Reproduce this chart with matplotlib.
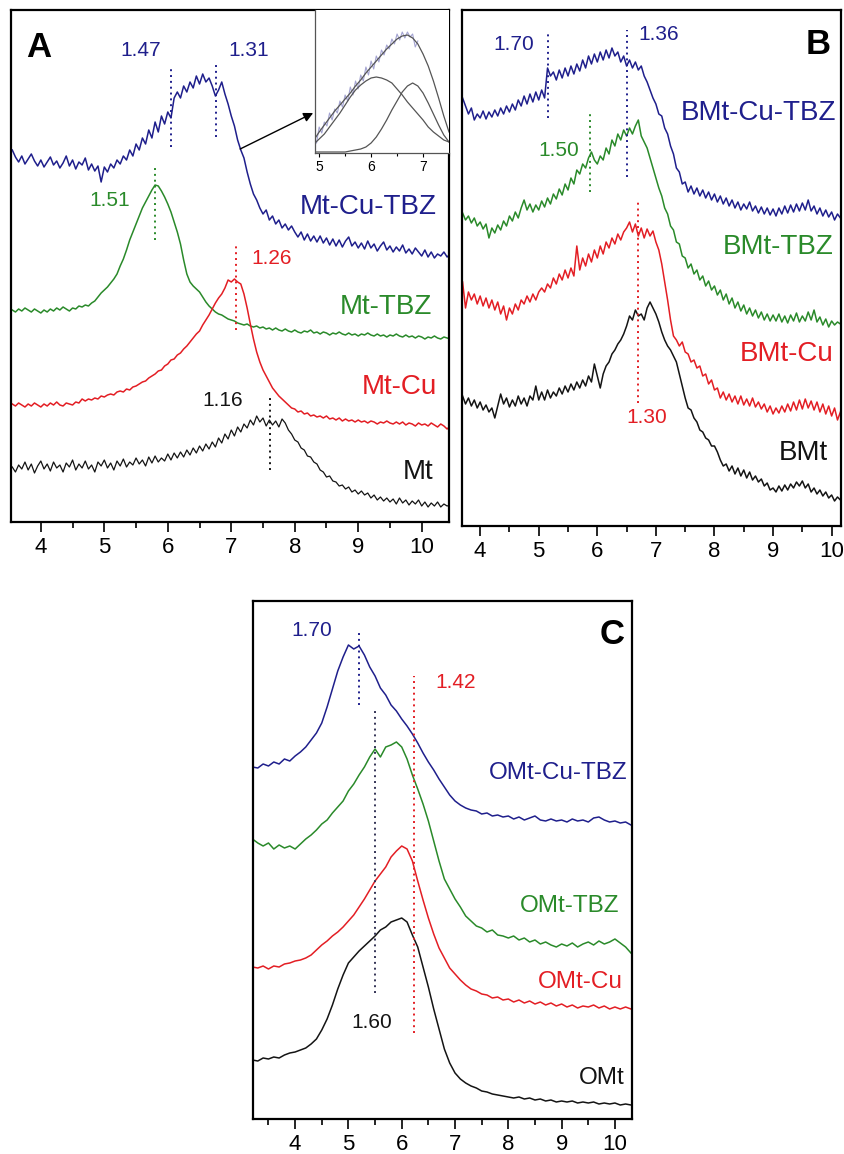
import numpy as np
import matplotlib
matplotlib.use('Agg')
import matplotlib.pyplot as plt
from matplotlib.ticker import MultipleLocator

plt.rcParams['font.family'] = ['Liberation Sans', 'DejaVu Sans']

# colours
navy = '#1f1f8c'
green = '#2a8a2a'
red = '#e31e24'
black = '#141414'

## ---- panel A : Mt series (intensity in arbitrary units, offset already included)
xa = np.linspace(3.55, 10.45, 139)
a_mt_cu_tbz = [372, 365, 360, 366, 358, 363, 368, 361, 356, 362,
               355, 360, 365, 357, 361, 354, 359, 366, 356, 362,
               353, 360, 357, 364, 352, 358, 351, 356, 340, 355,
               350, 358, 354, 362, 358, 366, 362, 372, 366, 378,
               372, 384, 378, 392, 384, 400, 390, 406, 398, 410,
               404, 424, 430, 424, 436, 430, 440, 434, 446, 438,
               448, 440, 444, 436, 426, 432, 440, 428, 418, 406,
               396, 382, 372, 364, 350, 338, 328, 322, 314, 308,
               312, 302, 306, 298, 302, 294, 298, 292, 296, 290,
               285, 290, 282, 288, 281, 286, 280, 286, 279, 284,
               277, 283, 276, 282, 275, 281, 285, 276, 280, 274,
               279, 273, 281, 274, 278, 271, 276, 280, 272, 276,
               270, 275, 271, 277, 269, 273, 268, 274, 270, 266,
               272, 265, 270, 264, 268, 266, 270, 265, 268]
a_mt_tbz = [212, 210, 213, 211, 214, 212, 210, 213, 211, 209,
            212, 210, 213, 211, 214, 212, 215, 213, 211, 214,
            213, 216, 215, 217, 216, 219, 221, 225, 229, 232,
            235, 239, 243, 248, 256, 263, 272, 282, 290, 298,
            306, 314, 320, 326, 332, 337, 336, 331, 325, 318,
            310, 300, 290, 278, 262, 248, 240, 236, 233, 230,
            225, 220, 216, 213, 210, 208, 207, 205, 203, 202,
            201, 199, 198, 197, 198, 196, 195, 196, 194, 195,
            193, 194, 192, 194, 192, 191, 193, 191, 190, 192,
            190, 189, 191, 190, 192, 189, 190, 188, 190, 189,
            187, 189, 188, 190, 188, 187, 189, 187, 188, 186,
            188, 187, 189, 187, 186, 188, 186, 187, 185, 187,
            186, 188, 186, 185, 187, 185, 186, 184, 186, 185,
            183, 185, 184, 186, 184, 183, 185, 184, 183]
a_mt_cu = [118, 116, 119, 117, 115, 118, 116, 119, 117, 115,
           118, 116, 119, 117, 120, 117, 116, 119, 118, 117,
           120, 119, 123, 121, 123, 122, 124, 123, 126, 125,
           127, 128, 127, 130, 131, 130, 133, 132, 135, 136,
           138, 140, 141, 144, 146, 148, 151, 152, 156, 158,
           162, 163, 167, 169, 173, 176, 180, 184, 188, 191,
           197, 202, 207, 213, 219, 224, 228, 234, 242, 240,
           243, 240, 238, 228, 214, 198, 183, 170, 160, 152,
           146, 140, 134, 130, 126, 123, 120, 117, 114, 113,
           110, 111, 108, 109, 106, 107, 105, 106, 104, 106,
           103, 104, 102, 104, 101, 103, 101, 102, 100, 102,
           100, 101, 99, 101, 100, 98, 100, 99, 101, 99,
           98, 100, 98, 100, 97, 99, 98, 96, 99, 97,
           98, 96, 99, 97, 95, 98, 96, 93, 96]
a_mt = [55, 50, 57, 53, 60, 52, 58, 49, 56, 61,
        53, 58, 51, 60, 54, 57, 50, 59, 55, 62,
        52, 58, 54, 61, 53, 57, 50, 60, 56, 62,
        54, 59, 52, 61, 56, 63, 55, 60, 57, 64,
        58, 62, 56, 65, 59, 66, 60, 64, 61, 68,
        62, 69, 64, 70, 65, 72, 67, 74, 69, 76,
        71, 78, 73, 80, 75, 84, 79, 88, 83, 92,
        86, 95, 90, 98, 94, 102, 97, 106, 100, 104,
        96, 102, 97, 101, 95, 103, 99, 92, 88, 82,
        80, 74, 72, 66, 65, 60, 58, 52, 50, 45,
        46, 41, 40, 36, 37, 33, 35, 30, 32, 28,
        31, 27, 29, 24, 27, 22, 25, 21, 24, 20,
        23, 18, 24, 19, 22, 17, 21, 18, 22, 16,
        20, 15, 19, 16, 20, 15, 18, 16, 17]

# inset of panel A (peak fit of Mt-Cu-TBZ)
xi = np.linspace(4.9, 7.5, 27)
fit_sum = [13, 21, 28, 35, 42, 48, 54, 60, 67, 73, 80, 86, 92, 98, 104, 109,
           114, 117, 118, 115, 109, 99, 87, 72, 55, 37, 21]
fit_p1 = [9, 14, 19, 26, 33, 40, 48, 56, 63, 68, 72, 75, 76, 75, 73, 70,
          64, 58, 51, 45, 39, 33, 26, 21, 17, 13, 11]
fit_p2 = [1, 1, 1, 1, 1, 1, 1, 2, 3, 4, 6, 10, 16, 24, 33, 43,
          52, 61, 67, 70, 67, 60, 50, 39, 28, 18, 11]
xi_raw = np.linspace(4.95, 6.90, 40)
fit_raw = [10, 26, 20, 31, 27, 40, 33, 44, 40, 52, 46, 58, 52, 66, 58, 72, 64, 78, 72, 86,
           78, 92, 84, 97, 91, 103, 98, 108, 104, 114, 109, 119, 113, 121, 115, 121, 116, 119, 106, 112]

## ---- panel B : BMt series
xb = np.linspace(3.70, 10.15, 130)
b_mt_cu_tbz = [428, 420, 412, 418, 406, 412, 408, 415, 407, 414,
               409, 416, 410, 418, 412, 420, 414, 422, 416, 426,
               420, 430, 422, 432, 424, 434, 426, 436, 428, 458,
               450, 454, 446, 456, 448, 458, 450, 460, 452, 462,
               455, 466, 458, 470, 462, 472, 464, 474, 466, 476,
               468, 478, 470, 474, 464, 470, 460, 466, 458, 464,
               456, 460, 450, 444, 436, 428, 422, 412, 410, 398,
               392, 380, 372, 358, 354, 342, 344, 334, 340, 332,
               338, 330, 336, 328, 334, 326, 332, 324, 330, 322,
               328, 320, 326, 318, 324, 316, 322, 317, 324, 315,
               320, 313, 319, 312, 318, 311, 317, 310, 318, 312,
               320, 313, 321, 314, 322, 315, 323, 316, 326, 315,
               320, 312, 318, 310, 316, 309, 314, 306, 312, 308]
b_mt_tbz = [313, 306, 310, 303, 308, 300, 304, 297, 302, 288,
            298, 293, 301, 296, 305, 300, 310, 305, 314, 308,
            318, 326, 316, 322, 314, 321, 316, 325, 319, 328,
            322, 332, 327, 337, 331, 342, 336, 348, 342, 356,
            352, 362, 358, 368, 374, 366, 362, 370, 366, 378,
            372, 386, 380, 392, 386, 396, 390, 398, 392, 400,
            406, 390, 384, 378, 368, 358, 348, 338, 330, 318,
            312, 300, 296, 284, 282, 270, 268, 258, 262, 252,
            256, 246, 250, 240, 245, 236, 240, 231, 236, 226,
            232, 222, 228, 218, 224, 215, 221, 212, 218, 210,
            216, 208, 214, 206, 212, 205, 211, 205, 212, 204,
            210, 203, 211, 205, 213, 204, 210, 205, 214, 206,
            216, 204, 209, 201, 207, 199, 205, 201, 204, 202]
b_mt_cu = [244, 218, 234, 226, 232, 222, 230, 220, 228, 218,
           226, 216, 224, 212, 220, 206, 218, 212, 222, 216,
           226, 222, 230, 224, 232, 226, 234, 238, 234, 242,
           238, 248, 242, 252, 246, 256, 248, 258, 250, 280,
           256, 268, 260, 272, 264, 276, 268, 280, 272, 284,
           278, 288, 282, 292, 286, 294, 298, 304, 294, 302,
           290, 298, 288, 297, 290, 295, 284, 276, 262, 244,
           226, 206, 190, 186, 180, 184, 174, 172, 164, 166,
           158, 160, 150, 152, 142, 146, 136, 138, 128, 134,
           126, 132, 124, 130, 122, 130, 121, 127, 120, 128,
           119, 124, 117, 122, 114, 120, 112, 118, 113, 120,
           114, 122, 115, 124, 116, 126, 117, 127, 118, 125,
           116, 124, 114, 122, 112, 120, 110, 118, 106, 114]
b_mt = [130, 122, 128, 120, 126, 118, 124, 116, 121, 114,
        118, 108, 120, 132, 122, 128, 119, 126, 120, 130,
        122, 128, 120, 130, 126, 140, 126, 134, 126, 136,
        128, 134, 130, 138, 132, 140, 134, 142, 136, 144,
        138, 146, 140, 150, 144, 162, 150, 138, 152, 160,
        164, 172, 176, 182, 186, 192, 200, 210, 206, 216,
        210, 212, 206, 218, 224, 218, 212, 204, 194, 186,
        180, 176, 170, 164, 152, 140, 128, 118, 116, 108,
        104, 96, 94, 88, 86, 80, 80, 74, 66, 60,
        62, 55, 60, 52, 58, 50, 56, 48, 54, 46,
        50, 44, 47, 40, 43, 36, 38, 34, 40, 35,
        41, 36, 42, 38, 44, 40, 45, 38, 42, 34,
        38, 32, 36, 30, 34, 28, 31, 25, 29, 26]

## ---- panel C : OMt series
xc = np.linspace(3.2, 10.3, 72)
c_mt_cu_tbz = [352, 351, 355, 353, 357, 355, 360, 358, 363, 367,
               372, 379, 386, 396, 412, 430, 448, 462, 474, 470,
               473, 464, 452, 443, 431, 424, 414, 408, 400, 393,
               385, 376, 366, 357, 349, 340, 332, 324, 318, 314,
               311, 309, 308, 305, 306, 303, 304, 302, 303, 300,
               302, 299, 301, 303, 299, 298, 300, 298, 299, 297,
               300, 298, 299, 297, 301, 302, 299, 297, 298, 296,
               297, 294]
c_mt_tbz = [280, 276, 273, 276, 270, 274, 271, 273, 270, 275,
            280, 284, 289, 295, 299, 306, 312, 318, 328, 335,
            344, 352, 362, 370, 362, 372, 374, 377, 372, 360,
            344, 330, 315, 298, 278, 258, 240, 230, 220, 212,
            203, 198, 193, 191, 187, 189, 184, 183, 181, 183,
            179, 181, 177, 179, 175, 177, 174, 172, 175, 173,
            176, 172, 175, 177, 174, 178, 175, 177, 180, 176,
            172, 166]
c_mt_cu = [152, 151, 153, 150, 153, 152, 155, 156, 158, 159,
           161, 164, 169, 174, 178, 183, 187, 192, 198, 204,
           212, 220, 229, 238, 245, 252, 262, 268, 273, 270,
           258, 238, 219, 201, 185, 171, 161, 151, 145, 139,
           134, 130, 128, 125, 124, 121, 122, 119, 120, 117,
           119, 116, 118, 115, 117, 114, 116, 113, 115, 112,
           114, 111, 113, 112, 114, 111, 113, 110, 112, 110,
           112, 110]
c_mt = [59, 58, 61, 60, 62, 61, 64, 66, 67, 69,
        71, 75, 80, 89, 100, 114, 130, 144, 156, 162,
        168, 173, 178, 183, 189, 192, 197, 199, 201, 197,
        184, 172, 152, 132, 110, 90, 70, 56, 46, 40,
        36, 33, 31, 28, 27, 25, 24, 23, 22, 21,
        22, 20, 21, 19, 20, 18, 19, 17, 18, 17,
        18, 16, 17, 16, 17, 15, 16, 15, 16, 14,
        15, 14]

W, H = 845, 1154
fig = plt.figure(figsize=(W / 100, H / 100), dpi=100)


def panel(left, top, right, bottom):
    return fig.add_axes([left / W, 1 - bottom / H, (right - left) / W, (bottom - top) / H])


def style(ax, xlim, ylim):
    ax.set_xlim(*xlim)
    ax.set_ylim(*ylim)
    ax.set_yticks([])
    ax.xaxis.set_major_locator(MultipleLocator(1))
    ax.xaxis.set_minor_locator(MultipleLocator(0.5))
    ax.tick_params(axis='x', which='major', direction='out', length=7, width=1.2,
                   labelsize=16, pad=4)
    ax.tick_params(axis='x', which='minor', direction='out', length=4, width=1.2)
    for s in ax.spines.values():
        s.set_linewidth(1.6)


def vdot(ax, x, y0, y1, color):
    ax.plot([x, x], [y0, y1], color=color, lw=1.4, linestyle=(0, (1, 2)))


lw = 1.1

# ---------------- A
axA = panel(11, 10, 449, 522)
style(axA, (3.53, 10.43), (0, 512))
axA.plot(xa, a_mt_cu_tbz, color=navy, lw=lw)
axA.plot(xa, a_mt_tbz, color=green, lw=lw)
axA.plot(xa, a_mt_cu, color=red, lw=lw)
axA.plot(xa, a_mt, color=black, lw=0.9)
vdot(axA, 6.05, 375, 455, navy)
vdot(axA, 6.76, 385, 457, navy)
vdot(axA, 5.80, 282, 354, green)
vdot(axA, 7.08, 192, 279, red)
vdot(axA, 7.61, 52, 124, black)
axA.text(0.064, 0.926, 'A', transform=axA.transAxes, fontsize=25, fontweight='bold',
         ha='center', va='center')
for x, y, t, c in [(5.58, 472, '1.47', navy), (7.27, 472, '1.31', navy),
                   (5.09, 321, '1.51', green), (7.63, 263, '1.26', red),
                   (6.87, 122, '1.16', black)]:
    axA.text(x, y, t, color=c, fontsize=15, ha='center', va='center')
for x, y, t, c in [(10.24, 315, 'Mt-Cu-TBZ', navy), (10.16, 215, 'Mt-TBZ', green),
                   (10.24, 135, 'Mt-Cu', red), (10.18, 50, 'Mt', black)]:
    axA.text(x, y, t, color=c, fontsize=20, ha='right', va='center')
axA.annotate('', xy=(8.29, 409), xytext=(7.14, 373),
             arrowprops=dict(arrowstyle='-|>', color='black', lw=1.0,
                             mutation_scale=14, shrinkA=0, shrinkB=0))

# inset
axI = panel(315, 10, 449, 153)
axI.set_xlim(4.92, 7.5)
axI.set_ylim(0, 143)
axI.set_yticks([])
axI.xaxis.set_major_locator(MultipleLocator(1))
axI.xaxis.set_minor_locator(MultipleLocator(0.5))
axI.tick_params(axis='x', which='major', direction='out', length=3, width=0.8,
                labelsize=10, pad=2)
axI.tick_params(axis='x', which='minor', direction='out', length=2, width=0.8)
axI.spines['top'].set_visible(False)
axI.spines['right'].set_visible(False)
for s in ['left', 'bottom']:
    axI.spines[s].set_linewidth(0.9)
    axI.spines[s].set_color('#555555')
axI.plot(xi_raw, fit_raw, color='#a4a4d2', lw=0.8)
axI.plot(xi, fit_sum, color='#555555', lw=0.9)
axI.plot(xi, fit_p1, color='#555555', lw=0.9)
axI.plot(xi, fit_p2, color='#555555', lw=0.9)

# ---------------- B
axB = panel(462, 10, 841, 526)
style(axB, (3.69, 10.16), (0, 516))
axB.plot(xb, b_mt_cu_tbz, color=navy, lw=lw)
axB.plot(xb, b_mt_tbz, color=green, lw=lw)
axB.plot(xb, b_mt_cu, color=red, lw=lw)
axB.plot(xb, b_mt, color=black, lw=lw)
vdot(axB, 5.16, 408, 494, navy)
vdot(axB, 6.50, 349, 496, navy)
vdot(axB, 5.88, 334, 414, green)
vdot(axB, 6.69, 123, 326, red)
axB.text(0.939, 0.934, 'B', transform=axB.transAxes, fontsize=25, fontweight='bold',
         ha='center', va='center')
for x, y, t, c in [(4.57, 482, '1.70', navy), (7.05, 492, '1.36', navy),
                   (5.34, 376, '1.50', green), (6.84, 108, '1.30', red)]:
    axB.text(x, y, t, color=c, fontsize=15, ha='center', va='center')
for x, y, t, c in [(10.08, 413, 'BMt-Cu-TBZ', navy), (10.04, 279, 'BMt-TBZ', green),
                   (10.03, 172, 'BMt-Cu', red), (9.94, 73, 'BMt', black)]:
    axB.text(x, y, t, color=c, fontsize=20, ha='right', va='center')

# ---------------- C
axC = panel(253, 601, 632, 1119)
style(axC, (3.21, 10.32), (0, 518))
axC.plot(xc, c_mt_cu_tbz, color=navy, lw=lw)
axC.plot(xc, c_mt_tbz, color=green, lw=lw)
axC.plot(xc, c_mt_cu, color=red, lw=lw)
axC.plot(xc, c_mt, color=black, lw=lw)
vdot(axC, 5.20, 414, 489, navy)
vdot(axC, 6.23, 86, 443, red)
vdot(axC, 5.50, 126, 409, '#333355')
axC.text(0.947, 0.936, 'C', transform=axC.transAxes, fontsize=25, fontweight='bold',
         ha='center', va='center')
for x, y, t, c in [(4.32, 489, '1.70', navy), (7.02, 436, '1.42', red),
                   (5.44, 96, '1.60', black)]:
    axC.text(x, y, t, color=c, fontsize=15, ha='center', va='center')
for x, y, t, c in [(10.24, 346, 'OMt-Cu-TBZ', navy), (10.09, 213, 'OMt-TBZ', green),
                   (10.15, 137, 'OMt-Cu', red), (10.19, 41, 'OMt', black)]:
    axC.text(x, y, t, color=c, fontsize=17.5, ha='right', va='center')

fig.savefig('out.png', dpi=100)
